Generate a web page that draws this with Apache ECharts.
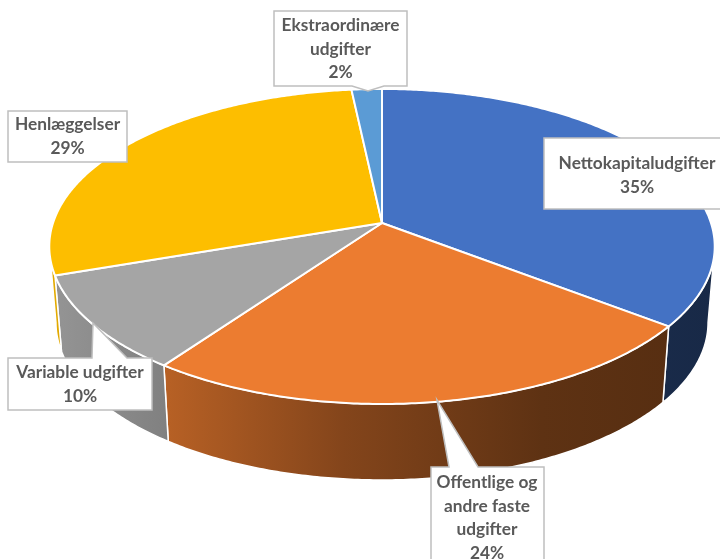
<!DOCTYPE html>
<html>
<head>
<meta charset="utf-8">
<style>html,body{margin:0;padding:0;background:#fff}#chart{width:720px;height:559px}</style>
<script src="https://cdn.jsdelivr.net/npm/echarts@6/dist/echarts.min.js"></script>
</head>
<body>
<div id="chart"></div>
<script>
// Budget shares, largest block first, clockwise from twelve o'clock
const names = ['Nettokapitaludgifter', 'Offentlige og\nandre faste\nudgifter', 'Variable udgifter', 'Henlæggelser', 'Ekstraordinære\nudgifter'];
const shares = [35.45, 24.45, 9.85, 28.55, 1.7];
const colors = ['#4472C4', '#EC7C30', '#A5A5A5', '#FDBE00', '#5B9BD5'];

// Callout boxes: box edges, then the pointer's base and tip when it has one
const callouts = [
  { box: [544, 138, 732, 209], cx: 637, top: 152 },
  { box: [431, 467, 544, 575], cx: 487, top: 471, side: 'top', base: [449, 478], tip: [437, 400] },
  { box: [8, 358, 152, 410], cx: 80, top: 361, side: 'top', base: [92, 127], tip: [93, 323] },
  { box: [8, 111, 127, 162], cx: 67.5, top: 113 },
  { box: [274, 11, 407, 86], cx: 340.5, top: 14, side: 'bottom', base: [352, 384], tip: [368, 91] }
];

// Tilted disc seen in perspective
const disc = { cx: 382, cy: 223, a: 329, b: 154, k: 0.149, depth: 76, shrink: 0.98 };
const total = shares.reduce((s, v) => s + v, 0);
const starts = [];
shares.reduce((s, v, i) => { starts[i] = s; return s + v; }, 0);
const toRad = (p) => (p / total) * Math.PI * 2;

function rimPoint(t, lower) {
  const u = Math.sin(t), v = Math.cos(t), f = 1 + disc.k * v;
  const x = (disc.a * u) / f, y = (-disc.b * v) / f;
  return lower
    ? [disc.cx + x * disc.shrink, disc.cy + y + disc.depth]
    : [disc.cx + x, disc.cy + y];
}
function arc(t0, t1, lower) {
  const n = Math.max(2, Math.ceil(Math.abs(t1 - t0) / 0.01));
  const pts = [];
  for (let i = 0; i <= n; i++) pts.push(rimPoint(t0 + ((t1 - t0) * i) / n, lower));
  return pts;
}
function shade(hex, f) {
  const n = parseInt(hex.slice(1), 16);
  const c = [(n >> 16) & 255, (n >> 8) & 255, n & 255].map((x) => Math.round(x * f));
  return 'rgb(' + c.join(',') + ')';
}
// Side wall light falls off from left to right across the whole disc
function wallFill(hex) {
  const stops = [[0, 0.9], [0.17, 0.78], [0.44, 0.56], [0.74, 0.4], [1, 0.36]];
  return {
    type: 'linear', x: 50, y: 0, x2: 715, y2: 0, global: true,
    colorStops: stops.map(([offset, f]) => ({ offset, color: shade(hex, f) }))
  };
}

const silhouette = Math.acos(-disc.k);
const seriesData = shares.map((v, i) => ({ name: names[i], value: v }));

function renderWall(params) {
  const i = params.dataIndex;
  const t0 = Math.max(toRad(starts[i]), silhouette);
  const t1 = Math.min(toRad(starts[i] + shares[i]), Math.PI * 2 - silhouette);
  if (t1 <= t0) return { type: 'group', children: [] };
  const points = arc(t0, t1, false).concat(arc(t1, t0, true));
  return {
    type: 'polygon',
    shape: { points },
    style: { fill: wallFill(colors[i]), stroke: '#fff', lineWidth: 1.5, lineJoin: 'round' }
  };
}
function renderTop(params) {
  const i = params.dataIndex;
  const t0 = toRad(starts[i]), t1 = toRad(starts[i] + shares[i]);
  const points = [[disc.cx, disc.cy]].concat(arc(t0, t1, false));
  return {
    type: 'polygon',
    shape: { points },
    style: { fill: colors[i], stroke: '#fff', lineWidth: 2, lineJoin: 'round' }
  };
}
function calloutOutline(c) {
  const [l, t, r, b] = c.box;
  if (c.side === 'top') {
    return [[l, t], [c.base[0], t], c.tip, [c.base[1], t], [r, t], [r, b], [l, b]];
  }
  if (c.side === 'bottom') {
    return [[l, t], [r, t], [r, b], [c.base[1], b], c.tip, [c.base[0], b], [l, b]];
  }
  return [[l, t], [r, t], [r, b], [l, b]];
}
function renderCallout(params) {
  const i = params.dataIndex;
  const c = callouts[i];
  return {
    type: 'group',
    children: [
      {
        type: 'polygon',
        shape: { points: calloutOutline(c) },
        style: { fill: '#fff', stroke: '#BFBFBF', lineWidth: 1.5 }
      },
      {
        type: 'text',
        style: {
          x: c.cx, y: c.top,
          text: names[i] + '\n' + Math.round((shares[i] / total) * 100) + '%',
          align: 'center', verticalAlign: 'top',
          font: 'bold 17.3px Lato', lineHeight: 23.5, fill: '#595959'
        }
      }
    ]
  };
}

const chart = echarts.init(document.getElementById('chart'), null, { renderer: 'canvas' });
chart.setOption({
  animation: false,
  backgroundColor: '#fff',
  series: [
    { type: 'custom', coordinateSystem: 'none', silent: true, z: 1, data: seriesData, renderItem: renderWall },
    { type: 'custom', coordinateSystem: 'none', silent: true, z: 2, data: seriesData, renderItem: renderTop },
    { type: 'custom', coordinateSystem: 'none', silent: true, z: 3, data: seriesData, renderItem: renderCallout }
  ]
});
</script>
</body>
</html>
